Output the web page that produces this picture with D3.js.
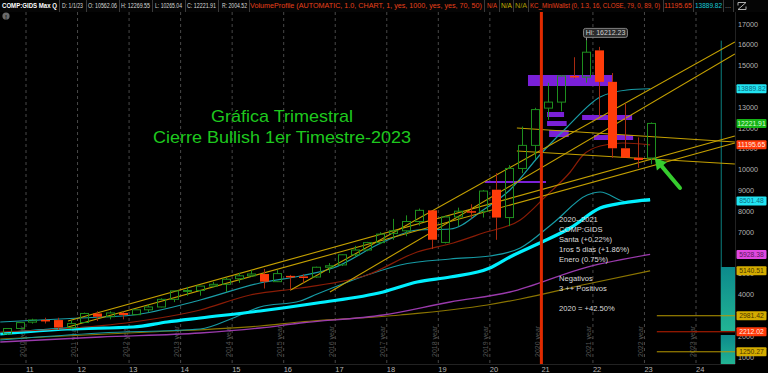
<!DOCTYPE html>
<html><head><meta charset="utf-8">
<script src="https://cdn.jsdelivr.net/npm/d3@7"></script>
<style>
html,body{margin:0;padding:0;background:#000;overflow:hidden}
svg{display:block}
text{font-family:"Liberation Sans",Arial,sans-serif}
</style></head><body>
<svg id="c" width="768" height="373"></svg>
<script>
// ---------- DATA ----------
const quarters = ["2010Q3","2010Q4","2011Q1","2011Q2","2011Q3","2011Q4","2012Q1","2012Q2","2012Q3","2012Q4",
"2013Q1","2013Q2","2013Q3","2013Q4","2014Q1","2014Q2","2014Q3","2014Q4","2015Q1","2015Q2","2015Q3","2015Q4",
"2016Q1","2016Q2","2016Q3","2016Q4","2017Q1","2017Q2","2017Q3","2017Q4","2018Q1","2018Q2","2018Q3","2018Q4",
"2019Q1","2019Q2","2019Q3","2019Q4","2020Q1","2020Q2","2020Q3","2020Q4","2021Q1","2021Q2","2021Q3","2021Q4",
"2022Q1","2022Q2","2022Q3","2022Q4","2023Q1"];
const open  = [2110,2370,2676,2781,2774,2415,2657,3092,2935,3116,3034,3268,3403,3771,4176,4199,4408,4493,4760,4901,4987,4620,
4897,4870,4843,5312,5425,5912,6140,6496,6937,7063,7510,8046,6506,7729,8006,7999,9039,7700,10059,11168,12958,13247,14504,14449,
15733,14221,11029,10576,10562.06];
const high  = [2382,2675,2840,2888,2887,2754,3134,3196,3196,3183,3270,3516,3818,4178,4372,4409,4610,4814,5042,5164,5232,5176,
4945,4980,5343,5512,5928,6341,6532,6994,7637,7806,8133,8049,7789,8176,8339,9026,9838,10221,12074,12973,14175,14536,15403,16212.23,
15901,14646,13182,11551,12269.55];
const low   = [2061,2334,2603,2611,2298,2335,2628,2726,2810,2810,3029,3154,3385,3637,3946,3946,4353,4117,4563,4857,4292,4601,
4210,4574,4812,5034,5371,5805,6082,6422,6631,6805,7318,6190,6457,7292,7662,7700,6631,7288,9835,10519,12397,12807,14376,14182,
12555,10565,10565,10089,10265.04];
const close = [2369,2653,2781,2774,2415,2605,3092,2935,3116,3020,3268,3403,3771,4177,4199,4408,4493,4736,4901,4987,4620,5007,
4870,4843,5312,5383,5912,6140,6496,6903,7063,7510,8046,6635,7729,8006,7999,8973,7700,10059,11168,12888,13247,14504,14449,15645,
14221,11029,10576,10466,12221.91];

const years = d3.range(2011, 2025);
// price scale labels that are visible (14000, 6000 and 3000 are hidden behind badges in the original)
const priceTicks = [1000,2000,4000,5000,7000,8000,9000,10000,11000,12000,13000,15000,16000,17000];

// moving-average style study lines (time in years, value)
const maThickT = [2010.50,2011.80,2013.08,2013.74,2014.38,2015.54,2016.65,2017.93,2018.59,2019.23,2020.00,2020.39,2020.97,2021.56,2022.14,2022.58,2023.11];
const maThickV = [2105,2345,2441,2682,2874,3210,3595,4123,4604,4844,5276,5805,6478,7198,8159,8400,8560];
const maMidT = [2010.50,2012.44,2014.38,2015.02,2015.54,2016.32,2016.65,2017.62,2018.26,2019.23,2020.00,2020.59,2021.23,2021.89,2022.14,2022.66,2023.11];
const maMidV = [1817,2153,2345,2874,3403,3691,4027,4940,5421,5709,5853,6237,7439,8784,8928,8448,8501];
const maRedT = [2010.50,2011.66,2013.08,2014.38,2015.35,2016.32,2017.62,2018.59,2019.29,2019.87,2020.59,2021.11,2021.56,2021.81,2022.14,2022.58,2023.11];
const maRedV = [2201,2345,2682,3258,3979,4315,4940,6045,6478,6958,7583,8784,9889,10706,11138,11282,11196];
const maUpT = [2010.50,2012.05,2013.08,2014.38,2015.54,2016.32,2016.96,2017.93,2018.59,2019.23,2019.87,2020.39,2020.97,2021.50,2022.14,2022.66,2023.11];
const maUpV = [2682,2874,3018,3739,4556,4892,5276,6526,7102,7150,8063,9024,10706,12051,13493,13829,13890];
const maMagT = [2010.50,2012.44,2014.38,2015.54,2016.32,2017.93,2019.23,2020.39,2021.89,2023.11];
const maMagV = [1721,1961,2153,2393,2634,3018,3643,4123,5324,5928];
const maGoldT = [2010.50,2013.41,2015.54,2016.32,2018.26,2019.95,2020.59,2021.89,2023.11];
const maGoldV = [1865,2201,2490,2682,3018,3499,3787,4508,5141];

// trend lines drawn by hand (start time, start value, end time, end value)
const trendT1 = [2011.815,2011.815,2016.125,2016.897,2020.525,2020.525];
const trendV1 = [2730,2441,4210,4123,12003,10898];
const trendT2 = [2024.754,2024.754,2024.754,2024.754,2024.754,2024.754];
const trendV2 = [11619,11282,16135,15559,11330,10273];

// volume profile boxes (time start, time end, price low, price high)
const vpT0 = [2020.74,2021.11,2021.11,2021.15,2021.79,2022.02];
const vpT1 = [2022.37,2021.44,2021.49,2021.53,2022.76,2022.78];
const vpLo = [14020,12531,12099,11570,12387,11426];
const vpHi = [14550,12772,12339,11907,12628,11666];
const vpLineT = [2019.90,2021.09];
const vpLineV = 9408;
const volBarLo = [2250,664];
const volBarHi = [5324,2057];

// level lines and price badges
const levelValues = [2981.42,2212.02,1250.27];
const levelColors = ["#b89a00","#c42000","#b89a00"];
const badgeValues = [13889.82,12221.91,11195.65,8501.48,5928.38,5140.51,2981.42,2212.02,1250.27];
const badgeBg = ["#22e4f2","#16b416","#ff3a0a","#22e4f2","#e048e0","#d4ac00","#d4ac00","#ff3a0a","#d4ac00"];
const badgeFg = ["#0a6a80","#d8ffd8","#ffe8e0","#0a6a80","#5a1a5a","#4a3600","#4a3600","#ffe8e0","#4a3600"];

const headerTexts = ["COMP:GIDS Max Q","D: 1/1/23","O: 10562.06","H: 12269.55","L: 10265.04","C: 12221.91","R: 2004.52",
"VolumeProfile (AUTOMATIC, 1.0, CHART, 1, yes, 1000, yes, yes, 70, 50)","N/A","N/A","N/A",
"KC_MiniWallst (0, 1.3, 16, CLOSE, 79, 0, 89, 0)","11195.65","13889.82","..."];
const headerColors = ["#ffffff","#d8d8d8","#d8d8d8","#d8d8d8","#d8d8d8","#d8d8d8","#d8d8d8","#e8401a","#e8401a","#c8b800","#a89a00","#e8401a","#e8401a","#18c8d8","#aaaaaa"];
const headerX = [2,62,88,121,155,187,222,250,487,501,515,530,664,695,725];
const headerW = [55,21,29,29,27,29,25,232,10,11,12,130,28,27,6];
const headerSep = [59,86,119,152,185,218,249,484,499,513,528,663,693,723,733];

const noteLines = ["2020--2021","COMP:GIDS","Santa (+0.22%)","1ros 5 dias (+1.86%)","Enero (0.75%)","","Negativos","3 ++ Positivos","","2020 = +42.50%"];
const titleLines = ["Gráfica Trimestral","Cierre Bullish 1er Timestre-2023"];
const hiLabel = "Hi: 16212.23";

// ---------- CHART ----------
const W = 768, H = 373;
const plotTop = 12, plotBottom = 364, plotRight = 735;
const x = d3.scaleLinear().domain([2011, 2024]).range([26, 696]);
const y = d3.scaleLinear().domain([1000, 17000]).range([357, 24]);
const qTime = q => +q.slice(0,4) + (+q.slice(5) - 1) / 4 + 0.125;

const svg = d3.select("#c");
svg.append("rect").attr("width", W).attr("height", H).attr("fill", "#000");
svg.append("defs").append("clipPath").attr("id","clip").append("rect")
  .attr("x",0).attr("y",plotTop).attr("width",plotRight).attr("height",plotBottom-plotTop);
const g = svg.append("g").attr("clip-path","url(#clip)");

// year gridlines
g.selectAll("line.grid").data(years).join("line")
  .attr("x1", d=>x(d)).attr("x2", d=>x(d)).attr("y1", plotTop).attr("y2", plotBottom)
  .attr("stroke","#484848").attr("stroke-width",1).attr("stroke-dasharray","3,3");
g.selectAll("text.yr").data(years).join("text")
  .attr("transform", d=>`translate(${x(d)-1.5},357) rotate(-90)`)
  .attr("font-size",7).attr("fill","#555").text(d=>(d-1)+" year");

// volume profile boxes
g.selectAll("rect.vp").data(vpT0).join("rect")
  .attr("x",(d,i)=>x(d)).attr("width",(d,i)=>x(vpT1[i])-x(d))
  .attr("y",(d,i)=>y(vpHi[i])).attr("height",(d,i)=>y(vpLo[i])-y(vpHi[i]))
  .attr("fill","#7a20d8");
g.append("line").attr("x1",x(vpLineT[0])).attr("x2",x(vpLineT[1])).attr("y1",y(vpLineV)).attr("y2",y(vpLineV))
  .attr("stroke","#7a20d8").attr("stroke-width",2);

// right volume bars
const grad = svg.select("defs").append("linearGradient").attr("id","vg").attr("x1",0).attr("x2",0).attr("y1",0).attr("y2",1);
grad.append("stop").attr("offset","0%").attr("stop-color","#0c8a8c");
grad.append("stop").attr("offset","100%").attr("stop-color","#22b494");
g.selectAll("rect.vb").data(volBarLo).join("rect")
  .attr("x",x(2024.48)).attr("width",plotRight-x(2024.48))
  .attr("y",(d,i)=>y(volBarHi[i])).attr("height",(d,i)=>y(d)-y(volBarHi[i]))
  .attr("fill","url(#vg)");
g.append("line").attr("x1",x(2024.48)+0.5).attr("x2",x(2024.48)+0.5).attr("y1",y(16200)).attr("y2",y(volBarHi[0]))
  .attr("stroke","#0c8080").attr("stroke-width",1);

// level lines
g.selectAll("line.lvl").data(levelValues).join("line")
  .attr("x1",x(2023.24)).attr("x2",plotRight).attr("y1",d=>y(d)).attr("y2",d=>y(d))
  .attr("stroke",(d,i)=>levelColors[i]).attr("stroke-width",1);

// study lines
const lineGen = d3.line().x(d=>x(d[0])).y(d=>y(d[1])).curve(d3.curveMonotoneX);
const studies = [
  {t:maGoldT, v:maGoldV, c:"#8a7400", w:1.2},
  {t:maMagT, v:maMagV, c:"#9a3aac", w:1.3},
  {t:maMidT, v:maMidV, c:"#169aa4", w:1.2},
  {t:maThickT, v:maThickV, c:"#00f0ff", w:3.2},
  {t:maRedT, v:maRedV, c:"#8a1c06", w:1.2},
  {t:maUpT, v:maUpV, c:"#1a9ea8", w:1.2}
];
studies.forEach(s=>{
  g.append("path").datum(s.t.map((t,i)=>[t,s.v[i]])).attr("d",lineGen)
   .attr("fill","none").attr("stroke",s.c).attr("stroke-width",s.w);
});

// trend lines
g.selectAll("line.tr").data(trendT1).join("line")
  .attr("x1",d=>x(d)).attr("y1",(d,i)=>y(trendV1[i]))
  .attr("x2",(d,i)=>x(trendT2[i])).attr("y2",(d,i)=>y(trendV2[i]))
  .attr("stroke","#c4a000").attr("stroke-width",1.1);

// red vertical line
g.append("line").attr("x1",x(2021)).attr("x2",x(2021)).attr("y1",plotTop-2).attr("y2",plotBottom)
  .attr("stroke","#e02a00").attr("stroke-width",3);

// candles
const cw = 9;
const cd = quarters.map((q,i)=>({t:qTime(q),o:open[i],h:high[i],l:low[i],c:close[i]}));
const cg = g.append("g");
cd.forEach(d=>{
  const up = d.c >= d.o;
  const cx = Math.round(x(d.t));
  const top = y(Math.max(d.o,d.c)), bot = y(Math.min(d.o,d.c));
  const col = up ? "#1e8e1e" : "#ff3c0a";
  const wick = up ? "#1e8e1e" : "#a82a10";
  cg.append("line").attr("x1",cx+0.5).attr("x2",cx+0.5).attr("y1",y(d.h)).attr("y2",top).attr("stroke",wick);
  cg.append("line").attr("x1",cx+0.5).attr("x2",cx+0.5).attr("y1",bot).attr("y2",y(d.l)).attr("stroke",wick);
  if (up) {
    cg.append("rect").attr("x",cx-3.5).attr("y",top).attr("width",cw-1).attr("height",Math.max(1,bot-top))
      .attr("fill","none").attr("stroke",col).attr("stroke-width",1);
  } else {
    cg.append("rect").attr("x",cx-4).attr("y",top).attr("width",cw).attr("height",Math.max(1.5,bot-top))
      .attr("fill",col);
  }
});

// Hi bubble
const hiIdx = high.indexOf(d3.max(high));
const hx = x(qTime(quarters[hiIdx])), hy = y(high[hiIdx]);
g.append("line").attr("x1",hx).attr("x2",hx).attr("y1",hy-3).attr("y2",hy).attr("stroke","#999");
g.append("rect").attr("x",hx-3).attr("y",hy-12).attr("width",44).attr("height",9).attr("rx",2)
  .attr("fill","#2c2c2c").attr("stroke","#9a9a9a").attr("stroke-width",0.8);
g.append("text").attr("x",hx+19).attr("y",hy-5.2).attr("text-anchor","middle").attr("font-size",7)
  .attr("fill","#cfcfcf").text(hiLabel);

// green arrow
const tip = [x(2023.20), y(10562)], tail = [x(2023.69), y(9120)];
const ang = Math.atan2(tip[1]-tail[1], tip[0]-tail[0]);
const hl = 11, hw = 6.5;
const base = [tip[0]-hl*Math.cos(ang), tip[1]-hl*Math.sin(ang)];
svg.append("line").attr("x1",tail[0]).attr("y1",tail[1]).attr("x2",base[0]).attr("y2",base[1])
  .attr("stroke","#36cc2e").attr("stroke-width",4).attr("stroke-linecap","round");
svg.append("path").attr("d",`M${tip[0]},${tip[1]}L${base[0]+hw*Math.sin(ang)},${base[1]-hw*Math.cos(ang)}L${base[0]-hw*Math.sin(ang)},${base[1]+hw*Math.cos(ang)}Z`)
  .attr("fill","#36cc2e");

// title text
svg.selectAll("text.title").data(titleLines).join("text")
  .attr("x",282).attr("y",(d,i)=>122+i*20.5).attr("text-anchor","middle")
  .attr("font-size",17).attr("fill","#1ec81e")
  .attr("textLength",(d,i)=>i===0?142:258).attr("lengthAdjust","spacingAndGlyphs").text(d=>d);

// note text
svg.selectAll("text.note").data(noteLines).join("text")
  .attr("x",559).attr("y",(d,i)=>222+i*9.9).attr("font-size",7.6).attr("fill","#dcdcdc").text(d=>d);

// right axis
svg.append("line").attr("x1",plotRight+0.5).attr("x2",plotRight+0.5).attr("y1",plotTop).attr("y2",plotBottom).attr("stroke","#222");
svg.selectAll("text.pt").data(priceTicks).join("text")
  .attr("x",738).attr("y",d=>y(d)+2.5).attr("font-size",7.2).attr("fill","#b4b4b4").text(d=>d);
const bg = svg.append("g");
badgeValues.forEach((v,i)=>{
  bg.append("rect").attr("x",736.5).attr("y",y(v)-4.5).attr("width",30).attr("height",9).attr("rx",1)
    .attr("fill",badgeBg[i]);
  bg.append("text").attr("x",751.5).attr("y",y(v)+2.6).attr("text-anchor","middle").attr("font-size",6.8)
    .attr("fill",badgeFg[i]).text(v.toFixed(2));
});

// bottom axis
svg.append("line").attr("x1",0).attr("x2",plotRight).attr("y1",plotBottom+0.5).attr("y2",plotBottom+0.5).attr("stroke","#222");
svg.selectAll("text.xt").data(years).join("text")
  .attr("x",d=>x(d)).attr("y",372).attr("font-size",7.5).attr("fill","#b4b4b4").text(d=>String(d).slice(2));

// header
svg.append("rect").attr("x",0).attr("y",0).attr("width",W).attr("height",plotTop).attr("fill","#050505");
svg.selectAll("line.hs").data(headerSep).join("line")
  .attr("x1",d=>d+0.5).attr("x2",d=>d+0.5).attr("y1",0).attr("y2",plotTop).attr("stroke","#3a3a3a");
svg.selectAll("text.hd").data(headerTexts).join("text")
  .attr("x",(d,i)=>headerX[i]).attr("y",8.4).attr("font-size",6.3)
  .attr("font-weight",(d,i)=>i===0?"bold":"normal")
  .attr("fill",(d,i)=>headerColors[i])
  .attr("textLength",(d,i)=>headerW[i]).attr("lengthAdjust","spacingAndGlyphs").text(d=>d);
// info icon & zoom icon
svg.append("circle").attr("cx",6).attr("cy",16).attr("r",3.6).attr("fill","#6a6a6a");
svg.append("text").attr("x",6).attr("y",18.5).attr("text-anchor","middle").attr("font-size",6).attr("font-weight","bold").attr("fill","#111").text("!");
svg.append("path").attr("d","M738,2.5H746L738,9.5H746M741,2.5L738,2.5L738,5.5M743,9.5L746,9.5L746,6.5")
  .attr("fill","none").attr("stroke","#b0b0b0").attr("stroke-width",1);
</script></body></html>
